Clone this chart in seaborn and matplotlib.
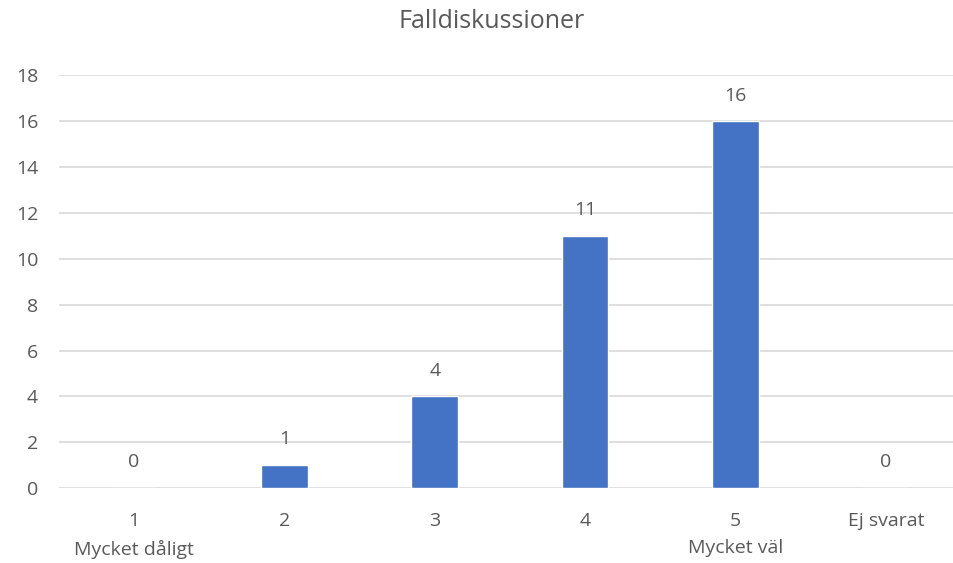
import seaborn as sns
import matplotlib.pyplot as plt
import pandas as pd

categories = ["1\nMycket dåligt", "2", "3", "4", "5\nMycket väl", "Ej svarat"]
counts = [0, 1, 4, 11, 16, 0]

sns.set_theme(style="white")
plt.rcParams['font.family'] = ['Open Sans', 'DejaVu Sans']
grey = "#595959"

df = pd.DataFrame({"kategori": categories, "antal": counts})

fig = plt.figure(figsize=(9.54, 5.63), dpi=100)
ax = fig.add_axes([0.0618, 0.1332, 0.9455, 0.7327])

sns.barplot(data=df, x="kategori", y="antal", color="#4472C4", width=0.31,
            saturation=1, ax=ax)

ax.set_ylim(0, 18)
ax.set_yticks(range(0, 19, 2))
ax.yaxis.grid(True, color="#D9D9D9", linewidth=1.2)
ax.set_axisbelow(True)
for s in ax.spines.values():
    s.set_visible(False)

ax.set_xlabel("")
ax.set_ylabel("")
ax.tick_params(axis="y", length=0, pad=15, labelsize=14, labelcolor=grey)
ax.tick_params(axis="x", length=0, pad=17, labelsize=14, labelcolor=grey)
for lab in ax.get_xticklabels():
    lab.set_linespacing(1.7)

ax.bar_label(ax.containers[0], labels=[str(c) for c in counts], padding=12,
             fontsize=14, color=grey)

fig.suptitle("Falldiskussioner", x=0.515, y=0.961, va="center",
             fontsize=18, color=grey)

fig.savefig("out.png", dpi=100)
